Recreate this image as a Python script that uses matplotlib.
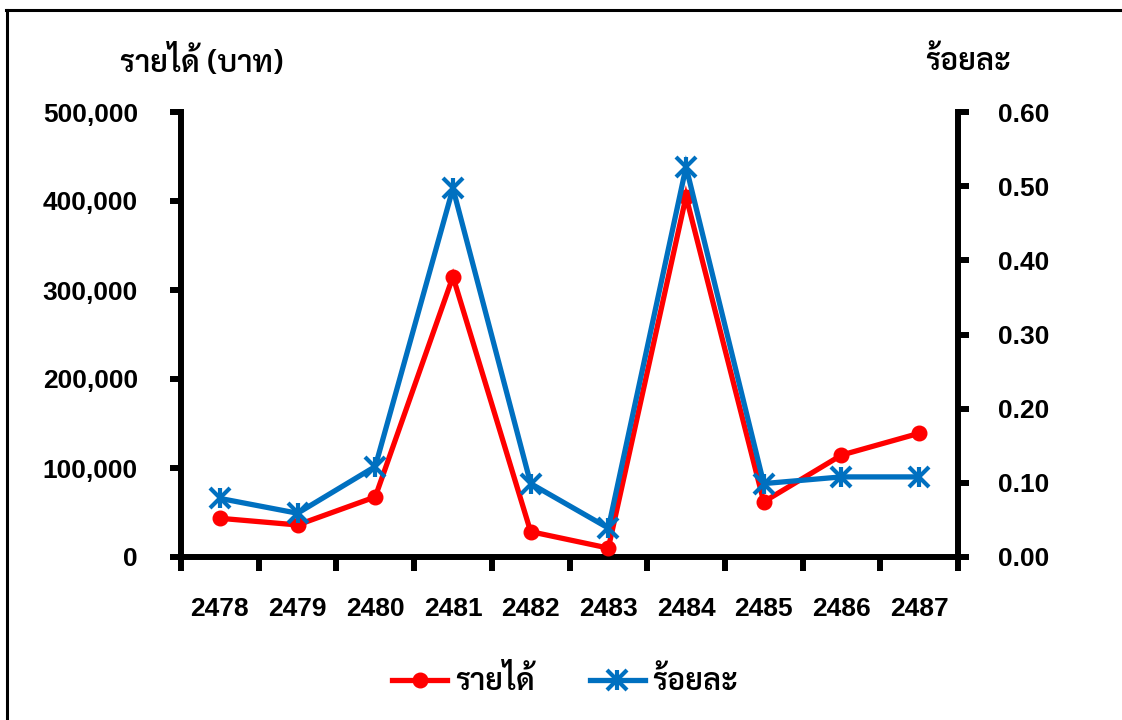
import matplotlib
matplotlib.use("Agg")
import matplotlib.pyplot as plt
from matplotlib.lines import Line2D
from matplotlib.legend_handler import HandlerTuple
from matplotlib.ticker import FuncFormatter, FixedLocator

# ---- data ----
years = ["2478", "2479", "2480", "2481", "2482", "2483", "2484", "2485", "2486", "2487"]
income_baht = [43500, 36000, 67500, 315000, 28500, 10000, 405000, 62000, 114500, 139000]
percent = [0.079, 0.059, 0.122, 0.497, 0.099, 0.039, 0.526, 0.099, 0.108, 0.108]

income_label = "รายได้"
percent_label = "ร้อยละ"
left_title = "รายได้ (บาท)"
right_title = "ร้อยละ"

RED = "#FF0000"
BLUE = "#0070C0"
NUM_FONT = "Liberation Sans"
THAI_FONT = ["Sarabun", "DejaVu Sans"]
NUM_SIZE = 19
THAI_SIZE = 22

fig = plt.figure(figsize=(11.22, 7.2), dpi=100)
ax = fig.add_axes([181 / 1122, 1 - 557 / 720, (958 - 181) / 1122, (557 - 112) / 720])
ax2 = ax.twinx()

x = list(range(len(years)))

line_inc, = ax.plot(x, income_baht, color=RED, lw=3.8, marker="o", ms=10.5,
                    solid_joinstyle="miter", zorder=3)
line_pct, = ax2.plot(x, percent, color=BLUE, lw=3.8, marker="x", ms=14, mew=3,
                     solid_joinstyle="miter", zorder=3)
bar_pct, = ax2.plot(x, percent, color=BLUE, lw=0, marker="|", ms=15, mew=3, zorder=3)

# axes ranges and ticks
ax.set_xlim(-0.5, len(years) - 0.5)
ax.set_ylim(0, 500000)
ax2.set_ylim(0, 0.6)
ax.set_yticks(range(0, 500001, 100000))
ax2.set_yticks([i / 10 for i in range(7)])
ax.yaxis.set_major_formatter(FuncFormatter(lambda v, p: f"{int(v):,}"))
ax2.yaxis.set_major_formatter(FuncFormatter(lambda v, p: f"{v:.2f}"))

ax.xaxis.set_major_locator(FixedLocator([i - 0.5 for i in range(len(years) + 1)]))
ax.xaxis.set_minor_locator(FixedLocator(x))
ax.set_xticklabels([], minor=False)
ax.set_xticklabels(years, minor=True)

SPINE_W = 4.3
for a in (ax, ax2):
    for s in a.spines.values():
        s.set_linewidth(SPINE_W)
    a.spines["top"].set_visible(False)
ax.spines["right"].set_visible(False)
ax2.spines["left"].set_visible(False)
ax2.spines["bottom"].set_visible(False)

ax.tick_params(axis="x", which="major", direction="out", length=10, width=SPINE_W)
ax.tick_params(axis="x", which="minor", length=0, pad=29)
ax.tick_params(axis="y", direction="out", length=8, width=SPINE_W, pad=23)
ax2.tick_params(axis="y", direction="out", length=8, width=SPINE_W, pad=21)

for lab in ax.get_xticklabels(minor=True) + ax.get_yticklabels() + ax2.get_yticklabels():
    lab.set_fontfamily(NUM_FONT)
    lab.set_fontweight("bold")
    lab.set_fontsize(NUM_SIZE)

# axis titles
fig.text(120 / 1122, 1 - 62 / 720, left_title, family=THAI_FONT, fontsize=THAI_SIZE,
         weight="semibold", ha="left", va="center")
fig.text(925 / 1122, 1 - 62 / 720, right_title, family=THAI_FONT, fontsize=THAI_SIZE,
         weight="semibold", ha="left", va="center")

# legend
h_inc = Line2D([], [], color=RED, lw=3.8, marker="o", ms=10.5)
h_x = Line2D([], [], color=BLUE, lw=3.8, marker="x", ms=14, mew=3)
h_bar = Line2D([], [], color=BLUE, lw=0, marker="|", ms=15, mew=3)
leg = fig.legend([h_inc, (h_x, h_bar)], [income_label, percent_label],
                 handler_map={tuple: HandlerTuple(ndivide=1)},
                 loc="center", bbox_to_anchor=(565 / 1122, 1 - 682 / 720), ncol=2,
                 frameon=False, handlelength=1.8, handletextpad=0.25, columnspacing=1.8,
                 prop={"family": THAI_FONT, "size": THAI_SIZE, "weight": "semibold"})

# figure frame (top and left edges)
fig.add_artist(Line2D([6 / 1122, 1.0], [1 - 10 / 720] * 2, color="black", lw=2.2,
                      transform=fig.transFigure))
fig.add_artist(Line2D([7 / 1122] * 2, [0.0, 1 - 10 / 720], color="black", lw=2.2,
                      transform=fig.transFigure))

fig.savefig("out.png", dpi=100)
